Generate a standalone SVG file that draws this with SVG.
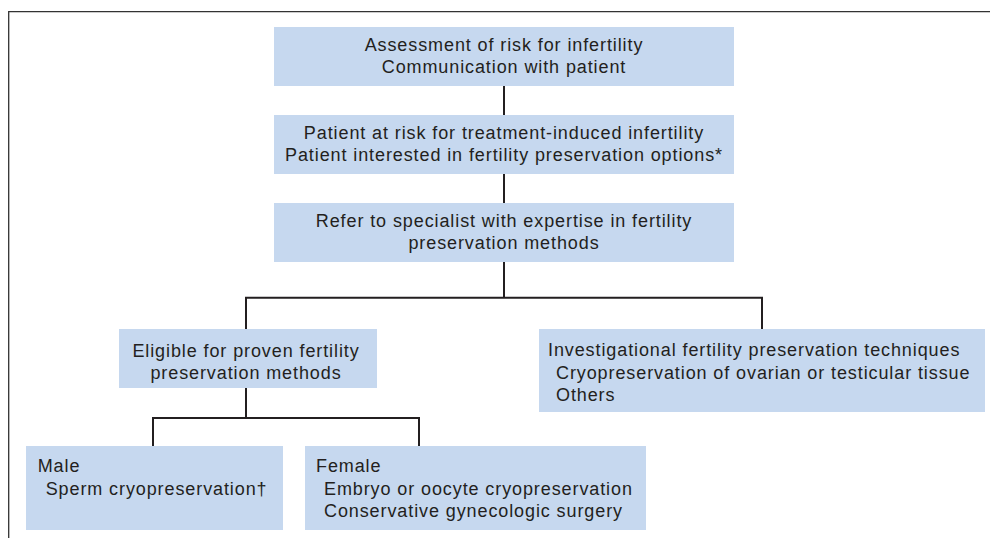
<svg xmlns="http://www.w3.org/2000/svg" width="990" height="538" viewBox="0 0 990 538">
<style>
.box{fill:#c6d8ef;}
.t{font-family:"Liberation Sans",Arial,sans-serif;font-size:18px;fill:#231f20;letter-spacing:0.9px;}
.c{text-anchor:middle;}
.ln{fill:none;stroke:#231f20;stroke-width:2;}
.fr{fill:none;stroke:#333333;stroke-width:1.3;}
</style>
<rect x="0" y="0" width="990" height="538" fill="#ffffff"/>
<path class="fr" d="M8.7,538 V11.6 H990"/>
<g id="connectors">
<path class="ln" d="M504,86 V115"/>
<path class="ln" d="M504,174 V203"/>
<path class="ln" d="M504,262 V297.7"/>
<path class="ln" d="M246,329 V297.7 H762 V329"/>
<path class="ln" d="M246,388 V418 H153 V446"/>
<path class="ln" d="M246,418 H419 V446"/>
</g>
<g id="assessment">
<rect class="box" x="274" y="27" width="460" height="59"/>
<text class="t c" x="504" y="51">Assessment of risk for infertility</text>
<text class="t c" x="504" y="73">Communication with patient</text>
</g>
<g id="at-risk">
<rect class="box" x="274" y="115" width="460" height="59"/>
<text class="t c" x="504" y="139">Patient at risk for treatment-induced infertility</text>
<text class="t c" x="504" y="161">Patient interested in fertility preservation options*</text>
</g>
<g id="refer">
<rect class="box" x="274" y="203" width="460" height="59"/>
<text class="t c" x="504" y="227">Refer to specialist with expertise in fertility</text>
<text class="t c" x="504" y="249">preservation methods</text>
</g>
<g id="eligible">
<rect class="box" x="119" y="329" width="258" height="59"/>
<text class="t c" x="246" y="357">Eligible for proven fertility</text>
<text class="t c" x="246" y="379">preservation methods</text>
</g>
<g id="investigational">
<rect class="box" x="539" y="329" width="446" height="83"/>
<text class="t" x="548" y="356">Investigational fertility preservation techniques</text>
<text class="t" x="556" y="379">Cryopreservation of ovarian or testicular tissue</text>
<text class="t" x="556" y="401">Others</text>
</g>
<g id="male">
<rect class="box" x="26" y="446" width="257" height="84"/>
<text class="t" x="37.7" y="472">Male</text>
<text class="t" x="45.7" y="495">Sperm cryopreservation†</text>
</g>
<g id="female">
<rect class="box" x="305" y="446" width="341" height="84"/>
<text class="t" x="316" y="472">Female</text>
<text class="t" x="324" y="495">Embryo or oocyte cryopreservation</text>
<text class="t" x="324" y="517">Conservative gynecologic surgery</text>
</g>
</svg>
